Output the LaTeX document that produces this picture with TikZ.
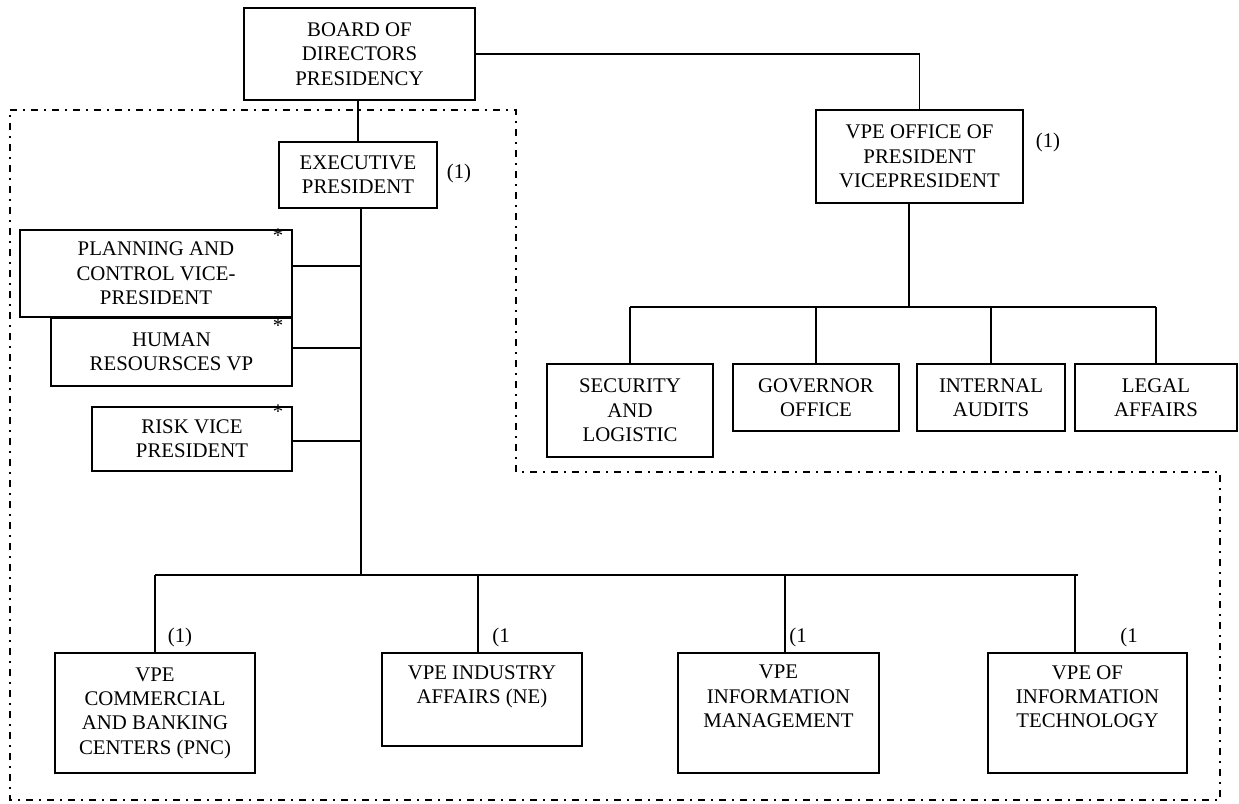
\documentclass[tikz,border=0pt]{standalone}
\usepackage{fontspec}
\setmainfont{Liberation Serif}
\usetikzlibrary{calc}
\newcommand{\orgfont}{\fontsize{20.8}{24.3}\selectfont}
\begin{document}
\begin{tikzpicture}[x=1pt,y=-1pt,
  box/.style={draw, line width=1.8pt, inner sep=0pt, align=center, font=\orgfont},
  toptext/.style={anchor=north, yshift=-13pt, inner sep=0pt, align=center, font=\orgfont},
  note/.style={inner sep=0pt, font=\orgfont},
  star/.style={anchor=base, inner sep=0pt, font=\orgfont},
  conn/.style={line width=1.6pt},
  zone/.style={line width=1.3pt, dash pattern=on 7pt off 6pt on 2pt off 6pt}]
\useasboundingbox (0,0) rectangle (1239,803);

% dash-dot outline of the executive area
\draw[zone] (10,110) -- (516,110) -- (516,472) -- (1220,472) -- (1220,800) -- (10,800) -- cycle;

% top level
\node[box, minimum width=231pt, minimum height=92pt] (board) at (359.5,54) {BOARD OF\\DIRECTORS\\PRESIDENCY};
\node[box, minimum width=158pt, minimum height=66pt] (exec) at (358,175) {EXECUTIVE\\PRESIDENT};
\node[note] (n1) at (459,173) {(1)};

% staff vice-presidents
\node[box, minimum width=272pt, minimum height=87pt] (plan) at (156,273.5) {PLANNING AND\\CONTROL VICE-\\PRESIDENT};
\node[box, minimum width=241pt, minimum height=68pt] (hr) at (171.5,352) {HUMAN\\RESOURSCES VP};
\node[box, minimum width=200pt, minimum height=64pt] (risk) at (192,439) {RISK VICE\\PRESIDENT};
\node[star] (s1) at (278,242) {*};
\node[star] (s2) at (278,332) {*};
\node[star] (s3) at (278,418) {*};

% office of the president branch
\node[box, minimum width=207pt, minimum height=93pt] (vpe) at (919.5,156.5) {VPE OFFICE OF\\PRESIDENT\\VICEPRESIDENT};
\node[note] (n2) at (1048,142) {(1)};
\node[box, minimum width=166pt, minimum height=93pt] (sec) at (630,410.5) {SECURITY\\AND\\LOGISTIC};
\node[box, minimum width=166pt, minimum height=67pt] (gov) at (816,397.5) {GOVERNOR\\OFFICE};
\node[box, minimum width=148pt, minimum height=67pt] (aud) at (991,397.5) {INTERNAL\\AUDITS};
\node[box, minimum width=162pt, minimum height=67pt] (legal) at (1156,397.5) {LEGAL\\AFFAIRS};

% executive vice-presidencies
\node[box, minimum width=200pt, minimum height=120pt] (pnc) at (155,713) {VPE\\COMMERCIAL\\AND BANKING\\CENTERS (PNC)};
\node[box, minimum width=200pt, minimum height=93pt,
      label={[toptext]north:VPE INDUSTRY\\AFFAIRS (NE)}] (ind) at (482,699.5) {};
\node[box, minimum width=201pt, minimum height=120pt,
      label={[toptext]north:VPE\\INFORMATION\\MANAGEMENT}] (ima) at (778.5,713) {};
\node[box, minimum width=199pt, minimum height=120pt,
      label={[toptext]north:VPE OF\\INFORMATION\\TECHNOLOGY}] (vit) at (1087.5,713) {};
\node[note] (n3) at (180,637) {(1)};
\node[note] (n4) at (501,637) {(1};
\node[note] (n5) at (798,637) {(1};
\node[note] (n6) at (1129,637) {(1};

% junction points
\coordinate (trunk) at (361,575);
\coordinate (tp) at (361,266);
\coordinate (th) at (361,348);
\coordinate (tr) at (361,441);
\coordinate (d2) at (478,575);
\coordinate (d3) at (785,575);
\coordinate (d4) at (1075,575);
\coordinate (barend) at (1078,575);
\coordinate (vb) at (909,307);

% connectors
\draw[conn] (exec.north |- board.south) -- (exec.north);
\draw[conn] (exec.south -| trunk) -- (trunk);
\draw[conn] (tp -| plan.east) -- (tp);
\draw[conn] (th -| hr.east) -- (th);
\draw[conn] (tr -| risk.east) -- (tr);

\draw[conn] (pnc.north |- trunk) -- (barend);
\draw[conn] (pnc.north |- trunk) -- (pnc.north);
\draw[conn] (d2) -- (d2 |- ind.north);
\draw[conn] (d3) -- (d3 |- ima.north);
\draw[conn] (d4) -- (d4 |- vit.north);

\draw[conn] (board.east) -| (vpe.north);
\draw[conn] (vb |- vpe.south) -- (vb);
\draw[conn] (sec.north |- vb) -- (legal.north |- vb);
\draw[conn] (sec.north |- vb) -- (sec.north);
\draw[conn] (gov.north |- vb) -- (gov.north);
\draw[conn] (aud.north |- vb) -- (aud.north);
\draw[conn] (legal.north |- vb) -- (legal.north);
\end{tikzpicture}
\end{document}
